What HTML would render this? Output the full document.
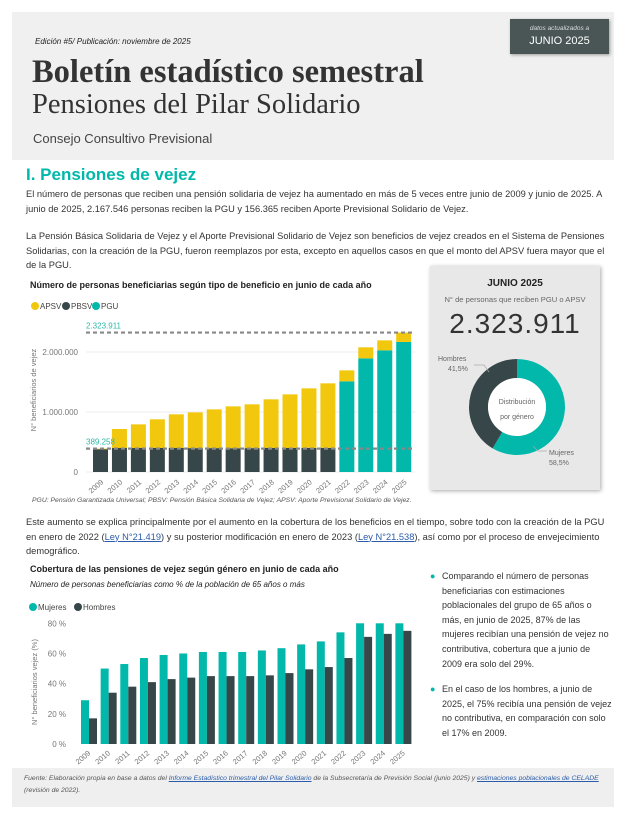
<!DOCTYPE html>
<html><head><meta charset="utf-8"><style>
body{margin:0;width:626px;height:821px;background:#fff;position:relative;overflow:hidden;font-family:"Liberation Sans",sans-serif;color:#333}
.a{position:absolute;margin:0}
.p{font-size:9.3px;line-height:14.7px;color:#333}
</style></head><body>
<div class="a" style="left:12px;top:12px;width:602px;height:148px;background:#f0f0f0"></div>
<div class="a" style="left:35px;top:37px;font-size:8px;font-style:italic;color:#222">Edición #5/ Publicación: noviembre de 2025</div>
<div class="a" style="left:510px;top:19px;width:99px;height:35px;background:#4a5656;box-shadow:1px 1px 3px #999;color:#fff;text-align:center">
<div style="font-size:6.5px;font-style:italic;margin-top:6px;color:#ddd">datos actualizados a</div><div style="font-size:11px;margin-top:3px">JUNIO 2025</div></div>
<div class="a" style="left:32px;top:54px;font-family:'Liberation Serif',serif;font-weight:bold;font-size:32.5px;color:#333">Boletín estadístico semestral</div>
<div class="a" style="left:32px;top:89px;font-family:'Liberation Serif',serif;font-size:28.5px;color:#333">Pensiones del Pilar Solidario</div>
<div class="a" style="left:33px;top:131px;font-size:13px;color:#444">Consejo Consultivo Previsional</div>
<div class="a" style="left:26px;top:165px;font-size:17px;font-weight:bold;color:#01b8aa">I. Pensiones de vejez</div>
<div class="a p" style="left:26px;top:187px;width:585px">El número de personas que reciben una pensión solidaria de vejez ha aumentado en más de 5 veces entre junio de 2009 y junio de 2025. A junio de 2025, 2.167.546 personas reciben la PGU y 156.365 reciben Aporte Previsional Solidario de Vejez.</div>
<div class="a p" style="left:26px;top:229px;width:585px">La Pensión Básica Solidaria de Vejez y el Aporte Previsional Solidario de Vejez son beneficios de vejez creados en el Sistema de Pensiones Solidarias, con la creación de la PGU, fueron reemplazos por esta, excepto en aquellos casos en que el monto del APSV fuera mayor que el de la PGU.</div>
<div class="a" style="left:30px;top:280px;font-size:9px;font-weight:bold;color:#222">Número de personas beneficiarias según tipo de beneficio en junio de cada año</div>
<div class="a" style="left:32px;top:497px;font-size:6.8px;font-style:italic;color:#555">PGU: Pensión Garantizada Universal; PBSV: Pensión Básica Solidaria de Vejez; APSV: Aporte Previsional Solidario de Vejez.</div>
<div class="a p" style="left:26px;top:515px;width:585px">Este aumento se explica principalmente por el aumento en la cobertura de los beneficios en el tiempo, sobre todo con la creación de la PGU en enero de 2022 (<u style="color:#2a5caa">Ley N°21.419</u>) y su posterior modificación en enero de 2023 (<u style="color:#2a5caa">Ley N°21.538</u>), así como por el proceso de envejecimiento demográfico.</div>
<div class="a" style="left:30px;top:564px;font-size:9px;font-weight:bold;color:#222">Cobertura de las pensiones de vejez según género en junio de cada año</div>
<div class="a" style="left:30px;top:580px;font-size:8px;font-style:italic;color:#222">Número de personas beneficiarias como % de la población de 65 años o más</div>
<div class="a" style="left:430px;top:569px;width:170px;font-size:9px;line-height:14.6px;color:#333;padding-left:12px"><span style="position:absolute;left:0;color:#01b8aa">●</span>Comparando el número de personas beneficiarias con estimaciones poblacionales del grupo de 65 años o más, en junio de 2025, 87% de las mujeres recibían una pensión de vejez no contributiva, cobertura que a junio de 2009 era solo del 29%.</div>
<div class="a" style="left:430px;top:682px;width:170px;font-size:9px;line-height:14.6px;color:#333;padding-left:12px"><span style="position:absolute;left:0;color:#01b8aa">●</span>En el caso de los hombres, a junio de 2025, el 75% recibía una pensión de vejez no contributiva, en comparación con solo el 17% en 2009.</div>
<div class="a" style="left:12px;top:768px;width:590px;height:34px;background:#efefef;padding:5px 0 0 12px;font-size:6.8px;line-height:12px;font-style:italic;color:#555">Fuente: Elaboración propia en base a datos del <u style="color:#2a5caa">Informe Estadístico trimestral del Pilar Solidario</u> de la Subsecretaría de Previsión Social (junio 2025) y <u style="color:#2a5caa">estimaciones poblacionales de CELADE</u> (revisión de 2022).</div>
<div class="a" style="left:430px;top:266px;width:170px;height:224px;background:#e8e8e8;box-shadow:1px 1px 4px #aaa;text-align:center">
<div style="font-size:10px;font-weight:bold;margin-top:12px;color:#222">JUNIO 2025</div>
<div style="font-size:7.6px;margin-top:6px;color:#666">N° de personas que reciben PGU o APSV</div>
<div style="font-size:28px;margin-top:4px;color:#333;letter-spacing:1px">2.323.911</div></div>
<svg class="a" id="svg" style="left:0;top:0" width="626" height="821"></svg>
<script>
const years=["2009","2010","2011","2012","2013","2014","2015","2016","2017","2018","2019","2020","2021","2022","2023","2024","2025"];
const pbsv=[380000,400000,400000,400000,400000,398000,398000,396000,398000,400000,400000,402000,402000,0,0,0,0];
const pgu=[0,0,0,0,0,0,0,0,0,0,0,0,0,1511000,1894000,2028000,2167546];
const apsv=[9258,317000,394000,478000,561000,596000,646000,698000,730000,811000,894000,992000,1076000,183000,184000,166000,156365];
const refLines=[2323911,389258];
const y1Ticks=[0,1000000,2000000];
const y1Labels=["0","1.000.000","2.000.000"];
const mujeres=[29,50,53,57,59,60,61,61,61,62,63.5,66,68,74,82,84,87];
const hombres=[17,34,38,41,43,44,45,45,45,45.5,47,49.5,51,57,71,73,75];
const y2Ticks=[0,20,40,60,80];
const donut=[58.5,41.5];
const NS="http://www.w3.org/2000/svg",svg=document.getElementById('svg');
function el(t,a,txt){const e=document.createElementNS(NS,t);for(const k in a)e.setAttribute(k,a[k]);if(txt!==undefined)e.textContent=txt;svg.appendChild(e);return e;}
const TEAL="#01b8aa",DARK="#374649",YEL="#f2c80f";
[["APSV",YEL],["PBSV",DARK],["PGU",TEAL]].forEach((l,i)=>{const x=[31,62,92][i];
let c=el('circle',{cx:x+4,cy:306,r:4,fill:l[1]});
let t=el('text',{x:x+9,y:309,'font-size':8,fill:'#444'},l[0]);});
const y1=v=>472-v/1000000*60;const x1=i=>93+i*18.95;
y1Ticks.forEach((v,i)=>{let g=el('line',{x1:86,x2:415,y1:y1(v),y2:y1(v),stroke:'#eee'});
let t=el('text',{x:78,y:y1(v)+3,'font-size':8,fill:'#777','text-anchor':'end'},y1Labels[i]);});
let yt=el('text',{transform:'translate(36,390) rotate(-90)','font-size':7.5,fill:'#777','text-anchor':'middle'},'N° beneficiarios de vejez');
years.forEach((yr,i)=>{const base=pbsv[i]+pgu[i];
if(pbsv[i]){let r=el('rect',{x:x1(i),y:y1(pbsv[i]),width:15,height:y1(0)-y1(pbsv[i]),fill:DARK});}
if(pgu[i]){let r=el('rect',{x:x1(i),y:y1(pgu[i]),width:15,height:y1(0)-y1(pgu[i]),fill:TEAL});}
let r=el('rect',{x:x1(i),y:y1(base+apsv[i]),width:15,height:y1(base)-y1(base+apsv[i]),fill:YEL});
let t=el('text',{transform:`translate(${x1(i)+11},483) rotate(-40)`,'font-size':7.5,fill:'#777','text-anchor':'end'},yr);});
refLines.forEach(v=>{let l=el('line',{x1:86,x2:415,y1:y1(v),y2:y1(v),stroke:'#888','stroke-width':2.2,'stroke-dasharray':'4,3'});
let t=el('text',{x:86,y:y1(v)-4,'font-size':8,fill:'#2ab7a9'},v.toLocaleString('de-DE'));});
[["Mujeres",TEAL],["Hombres",DARK]].forEach((l,i)=>{const x=[29,74][i];
let c=el('circle',{cx:x+4,cy:607,r:4,fill:l[1]});
let t=el('text',{x:x+9,y:610,'font-size':8,fill:'#444'},l[0]);});
const y2=v=>744-Math.min(v,80)/80*120.7;const x2=i=>81+i*19.65;
y2Ticks.forEach(v=>{let t=el('text',{x:66,y:y2(v)+3,'font-size':8,fill:'#777','text-anchor':'end'},v+' %');});
let yt2=el('text',{transform:'translate(37,682) rotate(-90)','font-size':7.5,fill:'#777','text-anchor':'middle'},'N° beneficiarios vejez (%)');
years.forEach((yr,i)=>{let r=el('rect',{x:x2(i),y:y2(mujeres[i]),width:8,height:744-y2(mujeres[i]),fill:TEAL});
let r2=el('rect',{x:x2(i)+8,y:y2(hombres[i]),width:8,height:744-y2(hombres[i]),fill:DARK});
let t=el('text',{transform:`translate(${x2(i)+10},754) rotate(-40)`,'font-size':7.5,fill:'#777','text-anchor':'end'},yr);});
const cx=517,cy=407,R=48,r0=29;let a0=-Math.PI/2;const tot=donut[0]+donut[1];
donut.forEach((v,i)=>{const a1=a0+v/tot*2*Math.PI,lg=(a1-a0)>Math.PI?1:0;const p=(a,r)=>[cx+r*Math.cos(a),cy+r*Math.sin(a)];
const [x0,y0]=p(a0,R),[x1_,y1_]=p(a1,R),[x2_,y2_]=p(a1,r0),[x3,y3]=p(a0,r0);
let s=el('path',{d:`M${x0},${y0}A${R},${R} 0 ${lg} 1 ${x1_},${y1_}L${x2_},${y2_}A${r0},${r0} 0 ${lg} 0 ${x3},${y3}Z`,fill:i?DARK:TEAL});
a0=a1;});
let c=el('circle',{cx:cx,cy:cy,r:r0,fill:'#fff'});
[['Distribución',cy-3],['por género',cy+12]].forEach(d=>{let t=el('text',{x:cx,y:d[1],'font-size':7,fill:'#666','text-anchor':'middle'},d[0]);});
[['Hombres',438,361],[donut[1].toFixed(1).replace('.',',')+'%',448,371],['Mujeres',549,455],[donut[0].toFixed(1).replace('.',',')+'%',549,465]].forEach(d=>{let t=el('text',{x:d[1],y:d[2],'font-size':7,fill:'#666'},d[0]);});
el('polyline',{points:'474,365 484,365 489,372',fill:'none',stroke:'#aaa','stroke-width':.7});
el('polyline',{points:'547,451 538,451 533,446',fill:'none',stroke:'#aaa','stroke-width':.7});
</script>
</body></html>
